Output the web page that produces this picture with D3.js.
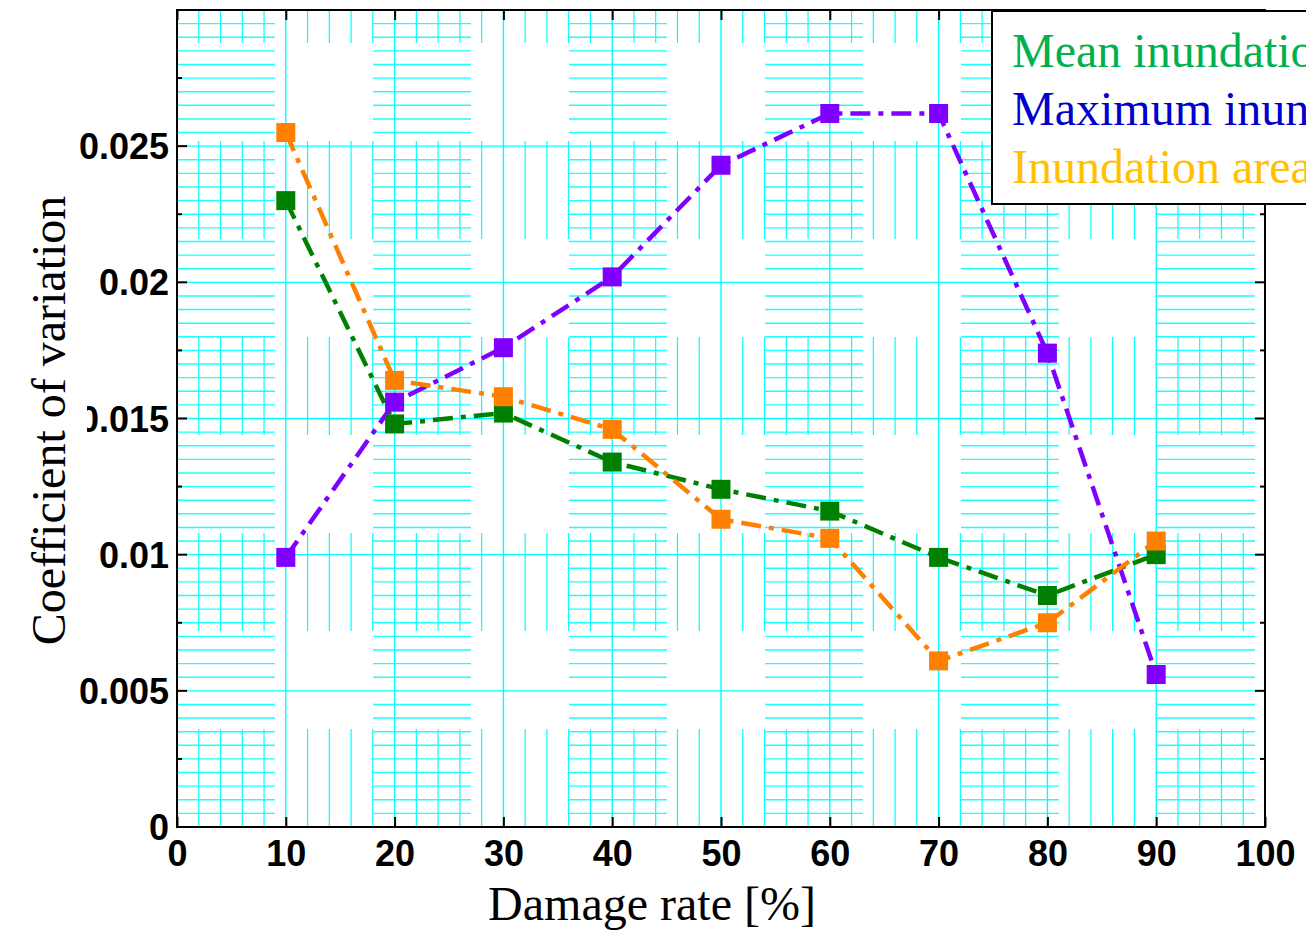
<!DOCTYPE html>
<html lang="en">
<head>
<meta charset="UTF-8" />
<title>Coefficient of variation</title>
<script src="https://cdn.jsdelivr.net/npm/d3@7"></script>
<style>
  body { margin: 0; background: #fff; overflow: hidden; }
  svg { display: block; }
</style>
</head>
<body>
<svg width="1306" height="937"></svg>
<script>
const damageRate = [10, 20, 30, 40, 50, 60, 70, 80, 90];
const meanDepth = [0.0230, 0.0148, 0.0152, 0.0134, 0.0124, 0.0116, 0.0099, 0.0085, 0.0100];
const maxDepth = [0.0099, 0.0156, 0.0176, 0.0202, 0.0243, 0.0262, 0.0262, 0.0174, 0.0056];
const inundArea = [0.0255, 0.0164, 0.0158, 0.0146, 0.0113, 0.0106, 0.0061, 0.0075, 0.0105];
const xTicks = [0, 10, 20, 30, 40, 50, 60, 70, 80, 90, 100];
const yTicks = [0, 0.005, 0.01, 0.015, 0.02, 0.025];
const yTickLabels = ["0", "0.005", "0.01", "0.015", "0.02", "0.025"];
const legendNames = ["Mean inundation depth", "Maximum inundation depth", "Inundation area"];
const legendColors = ["#00b050", "#0000cc", "#ffc000"];

const series = [
  { name: legendNames[0], values: meanDepth, color: "#008000" },
  { name: legendNames[1], values: maxDepth, color: "#8000ff" },
  { name: legendNames[2], values: inundArea, color: "#ff8000" }
];

const svg = d3.select("svg");
const pLeft = 177, pRight = 1265, pTop = 10, pBottom = 827;
const x = d3.scaleLinear().domain([0, 100]).range([pLeft, pRight]);
const y = d3.scaleLinear().domain([0, 0.03]).range([pBottom, pTop]);

const grid = svg.append("g");
// minor grid, dashed in screen space
grid.selectAll(".vmin").data(d3.range(2, 100, 2).filter(d => d % 10 !== 0))
  .enter().append("line")
  .attr("x1", d => x(d)).attr("x2", d => x(d))
  .attr("y1", pBottom).attr("y2", pTop)
  .attr("stroke", "#00ffff").attr("stroke-width", 1.2)
  .attr("stroke-dasharray", "98,98");
grid.selectAll(".hmin").data(d3.range(1, 60).map(i => i * 0.0005).filter((d, i) => (i + 1) % 10 !== 0))
  .enter().append("line")
  .attr("x1", pLeft).attr("x2", pRight)
  .attr("y1", d => y(d)).attr("y2", d => y(d))
  .attr("stroke", "#1affff").attr("stroke-width", 1.4)
  .attr("stroke-dasharray", "98,98");
// major grid
grid.selectAll(".vmaj").data(xTicks.slice(1, -1))
  .enter().append("line")
  .attr("x1", d => x(d)).attr("x2", d => x(d))
  .attr("y1", pBottom).attr("y2", pTop)
  .attr("stroke", "#00ffff").attr("stroke-width", 1.4);
grid.selectAll(".hmaj").data(yTicks.slice(1))
  .enter().append("line")
  .attr("x1", pLeft).attr("x2", pRight)
  .attr("y1", d => y(d)).attr("y2", d => y(d))
  .attr("stroke", "#00ffff").attr("stroke-width", 1.4);

// series
const line = d3.line().x((d, i) => x(damageRate[i])).y(d => y(d));
series.forEach(s => {
  svg.append("path").datum(s.values)
    .attr("d", line)
    .attr("fill", "none")
    .attr("stroke", s.color)
    .attr("stroke-width", 4.5)
    .attr("stroke-dasharray", "20,8,5,8");
});
series.forEach(s => {
  svg.append("g").selectAll("rect").data(s.values).enter().append("rect")
    .attr("x", (d, i) => x(damageRate[i]) - 9.5)
    .attr("y", d => y(d) - 9.5)
    .attr("width", 19).attr("height", 19)
    .attr("fill", s.color);
});

// axes box and ticks
svg.append("rect").attr("x", pLeft).attr("y", pTop)
  .attr("width", pRight - pLeft).attr("height", pBottom - pTop)
  .attr("fill", "none").attr("stroke", "#000").attr("stroke-width", 2);

const xAxisB = d3.axisBottom(x).tickValues(xTicks).tickSize(-10).tickSizeOuter(0).tickPadding(13);
const gx = svg.append("g").attr("transform", `translate(0,${pBottom})`).call(xAxisB);
gx.select(".domain").remove();
gx.selectAll("line").attr("stroke-width", 2);
gx.selectAll("text").attr("font-family", "Liberation Sans, Arial, sans-serif")
  .attr("font-size", 36).attr("font-weight", "bold").attr("fill", "#000");

const gxt = svg.append("g").attr("transform", `translate(0,${pTop})`)
  .call(d3.axisTop(x).tickValues(xTicks).tickSize(-10).tickSizeOuter(0).tickFormat(""));
gxt.select(".domain").remove();
gxt.selectAll("line").attr("stroke-width", 2);

const yMinor = d3.range(0, 13).map(i => i * 0.0025);
[[pLeft, 1], [pRight, -1]].forEach(([px, dir]) => {
  svg.append("g").selectAll("line").data(yMinor).enter().append("line")
    .attr("x1", px).attr("x2", (d, i) => px + dir * (i % 2 === 0 ? 10 : 5))
    .attr("y1", d => y(d)).attr("y2", d => y(d))
    .attr("stroke", "#000").attr("stroke-width", 2);
});

svg.append("g").selectAll("text").data(yTicks).enter().append("text")
  .attr("x", pLeft - 8).attr("y", d => y(d) + 13)
  .attr("text-anchor", "end")
  .attr("font-family", "Liberation Sans, Arial, sans-serif")
  .attr("font-size", 36).attr("font-weight", "bold")
  .text((d, i) => yTickLabels[i]);

// y title with its box covering labels
svg.append("rect").attr("x", 20).attr("y", 190).attr("width", 67).attr("height", 455).attr("fill", "#fff");
svg.append("text")
  .attr("transform", `translate(65,${(pTop + pBottom) / 2 + 2}) rotate(-90)`)
  .attr("text-anchor", "middle")
  .attr("font-family", "Liberation Serif, Times New Roman, serif")
  .attr("font-size", 48)
  .text("Coefficient of variation");

svg.append("text")
  .attr("x", 652).attr("y", 920)
  .attr("text-anchor", "middle")
  .attr("font-family", "Liberation Serif, Times New Roman, serif")
  .attr("font-size", 48)
  .text("Damage rate [%]");

// legend
const lg = svg.append("g");
lg.append("rect").attr("x", 992).attr("y", 11).attr("width", 400).attr("height", 193)
  .attr("fill", "#fff").attr("stroke", "#000").attr("stroke-width", 2);
lg.selectAll("text").data(legendNames).enter().append("text")
  .attr("x", 1012).attr("y", (d, i) => 67 + i * 58)
  .attr("font-family", "Liberation Serif, Times New Roman, serif")
  .attr("font-size", 48)
  .attr("fill", (d, i) => legendColors[i])
  .text(d => d);
</script>
</body>
</html>
